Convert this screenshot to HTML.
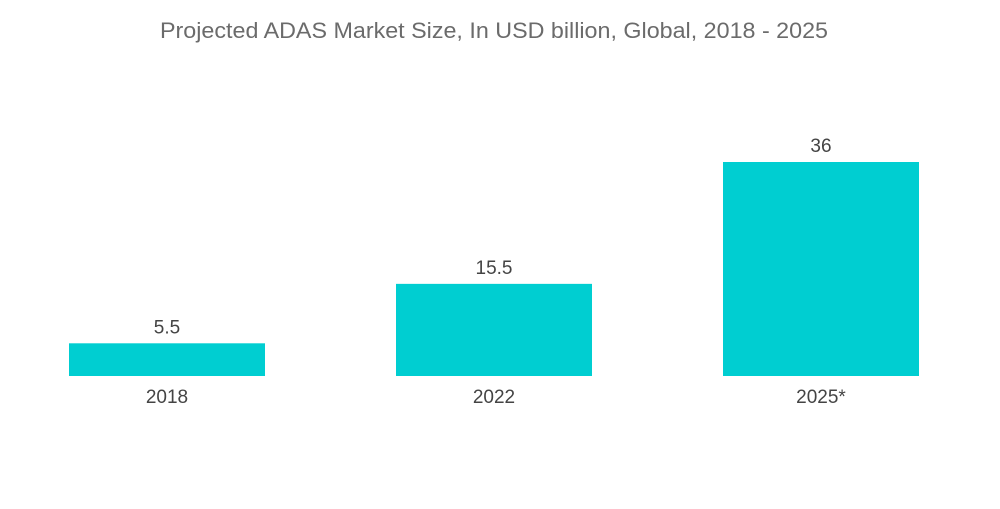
<!DOCTYPE html>
<html><head><meta charset="utf-8"><style>
body{margin:0;background:#fff;width:1000px;height:504px;overflow:hidden;font-family:"Liberation Sans",sans-serif}
</style></head><body>
<svg width="1000" height="504">
<text x="494" y="38" text-anchor="middle" font-size="22" textLength="668" lengthAdjust="spacingAndGlyphs" fill="#6b6b6b">Projected ADAS Market Size, In USD billion, Global, 2018 - 2025</text>
<g id="bars"></g>
</svg>
<script>
const categories=["2018","2022","2025*"];
const values=[5.5,15.5,36];
const valueLabels=["5.5","15.5","36"];
const baseline=376, scale=214/36, barW=196, x0=69, step=327;
function yScale(v){return baseline-v*scale;}
function xScale(i){return x0+i*step;}
const g=document.getElementById('bars');
const ns="http://www.w3.org/2000/svg";
categories.forEach((c,i)=>{
 const r=document.createElementNS(ns,'rect');
 r.setAttribute('x',xScale(i));r.setAttribute('y',yScale(values[i]));
 r.setAttribute('width',barW);r.setAttribute('height',baseline-yScale(values[i]));
 r.setAttribute('fill','#00ced1');
 
 
 g.appendChild(r);
 const t=document.createElementNS(ns,'text');
 t.setAttribute('x',xScale(i)+barW/2);t.setAttribute('y',yScale(values[i])-10);
 t.setAttribute('text-anchor','middle');t.setAttribute('font-size','19');t.setAttribute('fill','#444');
 t.textContent=valueLabels[i];
 
 
 g.appendChild(t);
 const l=document.createElementNS(ns,'text');
 l.setAttribute('x',xScale(i)+barW/2);l.setAttribute('y',403);
 l.setAttribute('text-anchor','middle');l.setAttribute('font-size','19');l.setAttribute('fill','#444');
 l.textContent=c;
 
 
 g.appendChild(l);
});
</script>
</body></html>
